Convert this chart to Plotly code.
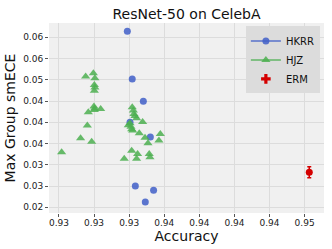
import plotly.graph_objects as go

# ---- data ----
hkrr_acc = [0.93237, 0.93272, 0.93351, 0.93256, 0.93401, 0.93294, 0.93424, 0.93365]
hkrr_ece = [0.06141, 0.05020, 0.04494, 0.04000, 0.03655, 0.02502, 0.02400, 0.02125]

hjz_acc = [0.92769, 0.92904, 0.92952, 0.92983, 0.92959, 0.92940, 0.92995, 0.93006,
           0.93002, 0.93006, 0.93002, 0.92999, 0.93002, 0.93004, 0.93047,
           0.93272, 0.93280, 0.93284, 0.93291, 0.93303, 0.93346, 0.93244, 0.93256,
           0.93263, 0.93268, 0.93275, 0.93322, 0.93268, 0.93215, 0.93310, 0.93303,
           0.93363, 0.93384, 0.93393, 0.93398, 0.93462, 0.93472]
hjz_ece = [0.03294, 0.03624, 0.03922, 0.03545, 0.04235, 0.05075, 0.05153, 0.05035,
           0.04878, 0.04816, 0.04745, 0.04369, 0.04290, 0.04322, 0.04314,
           0.04353, 0.04275, 0.04196, 0.04149, 0.04094, 0.04008, 0.03929, 0.03976,
           0.03898, 0.03835, 0.03804, 0.03741, 0.03333, 0.03145, 0.03255, 0.03145,
           0.03639, 0.03506, 0.03255, 0.03176, 0.03569, 0.03725]

erm_acc = [0.94533]
erm_ece = [0.02824]
erm_acc_err = [0.00012]
erm_ece_err = [0.0013]

x_tickvals = [0.9275, 0.93, 0.9325, 0.935, 0.9375, 0.94, 0.9425, 0.945]
x_ticktext = ["0.93", "0.93", "0.93", "0.94", "0.94", "0.94", "0.94", "0.95"]
y_tickvals = [0.020, 0.025, 0.030, 0.035, 0.040, 0.045, 0.050, 0.055, 0.060]
y_ticktext = ["0.02", "0.03", "0.03", "0.04", "0.04", "0.04", "0.05", "0.06", "0.06"]

BLUE = "rgba(65,95,200,0.85)"
GREEN = "rgba(76,175,80,0.85)"
RED = "#d40000"
FONT = "DejaVu Sans"

fig = go.Figure()

fig.add_trace(go.Scatter(x=hkrr_acc, y=hkrr_ece, mode="markers", showlegend=False,
                         marker=dict(symbol="circle", size=7, color=BLUE)))
fig.add_trace(go.Scatter(x=hjz_acc, y=hjz_ece, mode="markers", showlegend=False,
                         marker=dict(symbol="triangle-up", size=8, color=GREEN)))
fig.add_trace(go.Scatter(x=erm_acc, y=erm_ece, mode="markers", showlegend=False,
                         marker=dict(symbol="circle", size=7, color=RED),
                         error_y=dict(type="data", array=erm_ece_err, color=RED, thickness=1.5, width=2),
                         error_x=dict(type="data", array=erm_acc_err, color=RED, thickness=1.5, width=2)))

# legend entries
fig.add_trace(go.Scatter(x=[None], y=[None], mode="lines+markers", name="HKRR",
                         line=dict(color=BLUE, width=1.5),
                         marker=dict(symbol="circle", size=7, color=BLUE)))
fig.add_trace(go.Scatter(x=[None], y=[None], mode="lines+markers", name="HJZ",
                         line=dict(color=GREEN, width=1.5),
                         marker=dict(symbol="triangle-up", size=8, color=GREEN)))
fig.add_trace(go.Scatter(x=[None], y=[None], mode="markers", name="ERM",
                         marker=dict(symbol="cross", size=8, color=RED)))

axis_common = dict(showgrid=True, gridcolor="#DCDCDC", gridwidth=1, zeroline=False,
                   showline=False, ticks="outside", ticklen=3, tickcolor="#555",
                   tickfont=dict(family=FONT, size=9, color="#222"), tickmode="array")

fig.update_layout(
    width=332, height=249,
    margin=dict(l=49, r=8, t=23, b=36),
    paper_bgcolor="white", plot_bgcolor="#F0F0F0",
    title=dict(text="ResNet-50 on CelebA", x=0.5, xref="paper", xanchor="center",
               y=0.945, yanchor="middle", font=dict(family=FONT, size=14, color="#111")),
    xaxis=dict(**axis_common, tickvals=x_tickvals, ticktext=x_ticktext,
               range=[0.92679, 0.94638], ticklabelstandoff=-2,
               title=dict(text="Accuracy", font=dict(family=FONT, size=14, color="#111"), standoff=0)),
    yaxis=dict(**axis_common, tickvals=y_tickvals, ticktext=y_ticktext,
               range=[0.01866, 0.06336],
               title=dict(text="Max Group smECE", font=dict(family=FONT, size=14, color="#111"), standoff=4)),
    legend=dict(x=0.985, y=0.982, xanchor="right", yanchor="top",
                bgcolor="#DCDCDC", bordercolor="#DCDCDC", borderwidth=0,
                font=dict(family=FONT, size=10, color="#111"),
                itemwidth=30, tracegroupgap=0),
)

fig.write_html("out.html", config={"displayModeBar": False},
               post_script="document.body.style.margin='0';")
